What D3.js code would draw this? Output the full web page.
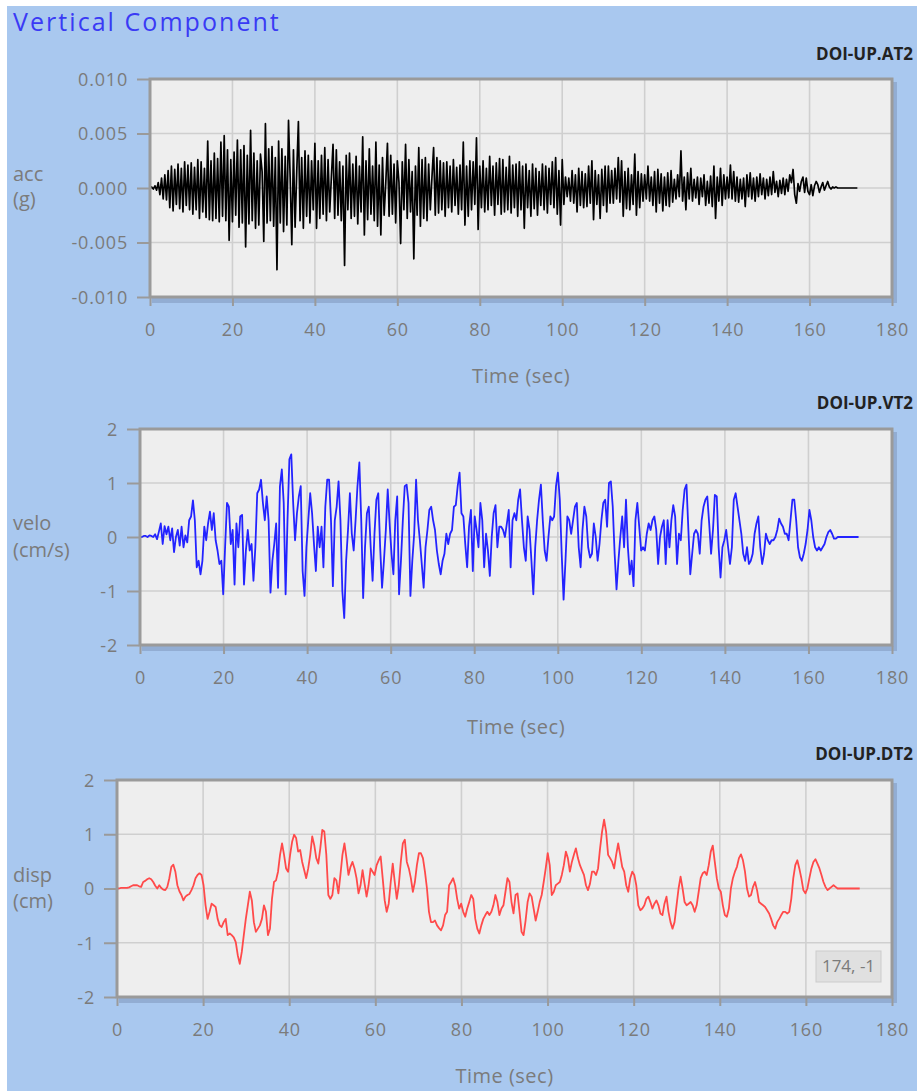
<!DOCTYPE html>
<html><head><meta charset="utf-8">
<script src="https://cdn.jsdelivr.net/npm/d3@7"></script>
<style>
html,body{margin:0;padding:0;background:#fff;}
svg{display:block;font-family:"Open Sans",sans-serif;}
</style></head><body>
<svg id="c" width="917" height="1091"></svg>
<script>
// ---------- data ----------
const chartTitle = "Vertical Component";
const fileNames = ["DOI-UP.AT2", "DOI-UP.VT2", "DOI-UP.DT2"];
const yLabels = [["acc", "(g)"], ["velo", "(cm/s)"], ["disp", "(cm)"]];
const xTitle = "Time (sec)";
const timeTicks = [0, 20, 40, 60, 80, 100, 120, 140, 160, 180];
const accTicks = [-0.010, -0.005, 0, 0.005, 0.010];
const accTickLabels = ["-0.010", "-0.005", "0.000", "0.005", "0.010"];
const veloTicks = [-2, -1, 0, 1, 2];
const veloTickLabels = ["-2", "-1", "0", "1", "2"];
const dispTicks = [-2, -1, 0, 1, 2];
const dispTickLabels = ["-2", "-1", "0", "1", "2"];
const tooltipText = "174, -1";

// acceleration (milli-g), sampled every 0.4 s
const accStep = 0.4;
const accMilliG = [
0,0.1,-0.1,0.2,-0.2,0.5,-0.6,0.9,-1.0,1.2,-1.1,1.6,-1.8,2.0,-2.1,1.7,-1.5,2.2,-1.9,1.8,-2.2,2.4,-1.6,2.1,-2.0,
2.3,-2.4,1.9,-2.0,2.6,-2.8,2.4,-2.2,1.8,-2.7,4.3,-2.9,2.5,-3.0,3.2,-2.8,2.7,-3.1,4.2,-2.6,4.8,-3.0,3.5,-4.8,2.6,
-3.1,3.3,-2.5,4.4,-3.6,3.5,-3.2,3.9,-5.4,3.0,-3.3,5.3,-3.0,3.2,-3.7,2.5,-3.4,3.1,1.5,-4.9,5.9,-3.2,3.6,-3.0,3.8,
-3.5,2.8,-7.5,4.3,-3.2,3.6,-4.0,2.9,-3.4,6.2,1.0,-5.2,3.5,-3.6,1.5,6.1,-3.0,2.8,-3.7,3.4,-2.6,3.0,-3.2,2.5,-2.0,
4.1,-3.7,2.5,-2.8,3.0,-2.4,3.7,-3.0,2.6,-2.2,1.0,4.0,-2.8,3.5,-2.5,2.4,-3.0,2.0,-7.1,3.0,-2.0,3.2,-2.8,2.2,-2.6,
2.9,-3.3,2.0,-2.2,4.7,-4.3,2.5,-2.9,3.6,-2.4,2.0,-3.0,4.2,-3.5,2.1,-4.3,2.8,-2.5,0.5,4.1,-2.6,3.0,-2.4,2.2,-3.2,
2.5,0.5,-5.1,2.4,-2.0,4.0,-2.8,2.6,-2.2,1.5,-6.5,2.0,-2.5,3.7,-3.5,2.6,-2.8,2.8,-3.0,2.2,-2.0,1.0,3.7,-2.5,2.8,
-2.3,2.5,-2.0,2.3,-2.6,2.4,-1.8,2.0,-2.2,2.6,-1.6,1.9,-2.4,2.1,-2.0,4.2,-3.4,2.0,-2.6,2.5,-2.0,2.4,-1.5,4.6,-3.8,
2.0,-1.8,2.5,-2.2,1.8,-2.0,2.9,-1.6,2.0,-2.5,2.3,-1.5,2.7,-2.4,2.6,-2.2,1.9,-2.0,2.9,-2.3,2.1,-1.8,2.2,-2.6,2.4,
-2.0,2.0,-3.7,2.2,-1.8,1.6,-2.6,2.2,-1.9,1.8,-2.5,1.5,-1.6,2.2,-2.0,2.0,-2.3,1.8,-1.5,2.4,-1.8,2.8,-2.4,1.6,-3.4,
2.6,-1.5,1.0,-0.8,0.9,-1.2,1.6,-1.4,1.2,-2.2,1.8,-1.6,1.5,-1.8,1.3,-1.7,2.0,-1.4,2.5,-2.9,1.6,-1.5,1.2,-2.8,1.7,
-1.6,2.0,-2.2,2.0,-1.4,1.6,-1.4,1.8,-1.0,2.8,-1.3,2.5,-2.6,1.5,-1.9,1.8,-2.0,1.2,-1.5,3.1,-2.5,1.5,-1.8,1.3,-1.2,
1.2,-1.0,2.0,-1.2,1.0,-1.6,1.5,-2.2,1.7,-1.4,1.3,-2.1,1.0,-1.6,1.4,-1.7,1.6,-1.3,0.8,-1.0,1.2,-0.8,3.4,-1.2,1.0,
-2.0,1.4,-1.0,1.8,-1.2,0.8,-0.9,1.0,-1.5,0.9,-0.8,1.2,-1.6,0.6,-1.4,1.1,-1.7,2.0,-2.8,1.0,-1.2,1.8,-1.6,1.2,-1.0,
1.0,-0.9,2.1,-1.0,1.5,-1.2,1.0,-1.3,0.8,-1.0,0.9,-1.7,1.2,-0.8,1.4,-1.0,0.9,-1.2,1.0,-0.8,1.3,-0.6,0.9,-1.0,0.8,
-0.7,1.0,-0.6,1.5,-0.4,0.6,-0.8,0.7,-0.5,0.9,-0.6,0.8,-0.3,1.2,0.5,1.7,-0.6,-1.4,0.4,-0.3,0.6,1.0,-0.4,0.9,-0.3,
-0.6,0.3,-0.7,0.2,0.6,0.3,-0.4,0.1,0.5,-0.2,0.2,0.6,0.1,-0.1,0.1,0,0.1,0,0,0,0,0,0,0,0,0,0,0,0,0
];

// velocity (cm/s), evenly sampled from 0 to veloEnd seconds
const veloEnd = 172;
const veloValues = [
0,0,0.02,0.02,0,0.03,0.02,0,0.05,-0.04,0.1,0.25,-0.13,0.2,0.05,0.19,-0.06,0.16,-0.28,0,
0.13,-0.16,0.19,-0.19,0.03,-0.1,0.31,0.38,0.68,
0.31,-0.56,-0.44,-0.69,-0.44,0.19,-0.06,0.25,0.47,0.13,0.44,-0.06,-0.25,-0.5,-0.44,-1.06,-0.19,0.63,0.56,-0.13,
0.13,-0.88,0.25,-0.19,0.38,0.41,-0.88,-0.25,0.13,-0.25,-0.13,-0.81,-0.19,0.81,0.88,1.06,0.63,0.31,0.75,0.31,
-1.03,-0.44,-0.13,0.25,-0.94,0.94,1.25,0.63,-1.06,0.31,1.44,1.53,
0.63,-0.06,0.44,0.75,0.94,-0.63,-1.09,-0.19,0.31,0.81,0.44,-0.13,-0.63,0.19,-0.19,0.19,-0.56,0.56,1.06,1.06,
0.31,-0.91,0.31,0.56,1.03,0.31,-1.0,-1.5,
-0.44,0.13,0.81,0.06,-0.25,0.31,0.94,1.38,0.31,-1.13,-0.19,0.44,0.56,-0.19,-0.81,0.06,0.69,0.81,-0.19,-0.94,
-0.44,0.13,0.88,0.25,-0.31,-0.69,0.31,0.75,-1.06,-0.44,0.31,0.94,0.97,0.63,-1.09,-0.44,0.06,1.06,0.31,-0.06,
-0.5,-0.94,-0.19,0.13,0.5,0.56,0.31,0.13,-0.25,-0.5,-0.69,-0.44,-0.31,0.06,-0.13,0.06,0.13,0.56,0.59,0.94,
1.19,0.44,0.38,-0.13,-0.56,0.19,0.5,-0.63,0.38,0.13,-0.19,0.63,0.31,-0.56,0.06,-0.25,-0.72,0,0.44,0.59,
-0.19,0.19,0.19,0.13,0,0.25,0.5,-0.56,0.31,0.44,0.31,0.69,0.88,0.31,-0.19,-0.44,0.38,0.13,-0.44,-1.06,
-0.19,0.31,0.69,0.97,0.31,-0.25,-0.44,0,0.38,0.31,0.38,0.94,1.19,0.69,-0.31,-1.16,-0.44,0.38,0.31,0.06,
0.31,0.56,0.63,-0.19,-0.56,0.13,0.56,0.38,-0.19,-0.38,-0.31,0.25,0,-0.44,-0.13,0.31,0.63,0.69,0.19,1.0,
1.03,0.56,-0.31,-0.97,-0.44,0,0.38,-0.19,0.69,-0.19,-0.69,-0.44,-0.91,0.31,0.63,0.19,-0.25,-0.19,-0.25,0.06,
0.25,0.13,0.31,0.38,0.13,-0.5,0,0.19,0.31,-0.5,0.31,-0.19,0.31,0.59,0.38,-0.5,0.06,-0.06,0.5,0.88,
0.97,0.13,-0.69,-0.31,0.06,0.13,0.06,-0.31,0.31,0.56,0.69,0.75,0.25,-0.31,0.13,0.78,0.75,-0.19,-0.75,-0.19,
-0.06,0.13,-0.19,-0.5,-0.19,0.69,0.81,0.56,0.31,0.06,-0.31,-0.44,-0.19,-0.5,-0.44,-0.31,0.06,0.25,0.38,-0.19,
-0.5,-0.31,0.06,-0.06,-0.13,-0.06,-0.06,0,0.13,0.34,0.25,0.19,0.06,0.06,-0.06,0.31,0.69,0.69,0.31,-0.19,
-0.38,-0.44,-0.31,-0.13,0.13,0.5,0.31,0,-0.19,-0.25,-0.19,-0.25,-0.19,-0.13,0,0.09,0.13,0.06,-0.03,-0.03,
0,0,0,0,0,0,0,0,0,0,0,0
];

// displacement (cm), evenly sampled from 0 to dispEnd seconds
const dispEnd = 172.5;
const dispValues = [
0,0,0.01,0.01,0.01,0.01,0.02,0.04,0.06,0.06,0.06,0.04,0.03,0.12,0.14,0.17,0.19,0.17,0.12,0.05,
0,0.06,0.01,-0.02,-0.03,0.03,0.19,0.4,0.44,0.31,0.06,-0.05,-0.12,-0.22,-0.15,-0.12,-0.1,-0.03,0.06,0.19,
0.25,0.28,0.25,0.06,-0.31,-0.56,-0.43,-0.28,-0.31,-0.34,-0.56,-0.68,-0.71,-0.62,-0.56,-0.86,-0.83,-0.86,-0.9,-0.99,
-1.23,-1.39,-1.17,-0.86,-0.56,-0.31,-0.06,-0.22,-0.62,-0.8,-0.74,-0.68,-0.56,-0.31,-0.43,-0.86,-0.74,-0.19,0.12,0.15,
0.31,0.62,0.83,0.62,0.37,0.31,0.62,0.86,0.99,0.93,0.68,0.71,0.49,0.34,0.19,0.37,0.62,0.96,0.8,0.56,
0.46,0.74,1.08,1.05,0.62,-0.12,-0.19,-0.12,0.19,0.15,-0.09,0.25,0.62,0.83,0.56,0.25,0.4,0.49,0.37,0.19,
-0.09,0.06,0.34,0.09,-0.15,0.06,0.37,0.31,0.25,0.43,0.52,0.59,0.19,-0.22,-0.43,-0.28,0.12,0.46,0.12,-0.19,
0.06,0.49,0.83,0.9,0.49,0.37,0.19,-0.06,0.12,0.43,0.65,0.65,0.56,0.31,0,-0.43,-0.62,-0.62,-0.59,-0.68,
-0.73,-0.77,-0.68,-0.49,-0.43,0.06,0.12,0.19,0.06,-0.19,-0.37,-0.28,-0.43,-0.52,-0.37,-0.25,-0.12,-0.19,-0.56,-0.74,
-0.83,-0.68,-0.56,-0.49,-0.43,-0.49,-0.43,-0.31,-0.12,-0.25,-0.49,-0.37,-0.31,-0.06,0.19,0.12,-0.25,-0.46,-0.12,-0.09,
-0.43,-0.8,-0.86,-0.59,-0.25,-0.09,-0.15,-0.37,-0.59,-0.43,-0.25,-0.12,0.12,0.37,0.65,0.43,-0.12,-0.06,0.06,0.09,
0.12,0.25,0.43,0.68,0.56,0.31,0.49,0.62,0.74,0.56,0.43,0.34,0.25,0.06,-0.03,0.09,0.31,0.31,0.25,0.37,
0.74,1.05,1.27,1.05,0.62,0.56,0.49,0.37,0.62,0.83,0.62,0.4,0.31,0.06,-0.06,0.19,0.31,0.25,0.06,-0.31,
-0.4,-0.37,-0.31,-0.19,-0.15,-0.25,-0.37,-0.28,-0.22,-0.31,-0.46,-0.49,-0.28,-0.15,-0.43,-0.62,-0.74,-0.62,-0.31,0,
0.22,0,-0.25,-0.31,-0.28,-0.25,-0.31,-0.43,-0.31,-0.06,0.19,0.28,0.31,0.25,0.43,0.68,0.79,0.49,0.19,0,
-0.06,-0.31,-0.49,-0.52,-0.37,0,0.19,0.31,0.4,0.56,0.63,0.52,0.31,0,-0.15,-0.12,0.03,0.12,-0.03,-0.25,
-0.28,-0.31,-0.34,-0.4,-0.46,-0.56,-0.68,-0.74,-0.62,-0.56,-0.49,-0.43,-0.43,-0.46,-0.43,-0.19,0.19,0.43,0.52,0.37,
0.19,-0.03,-0.09,0,0.19,0.37,0.49,0.54,0.46,0.37,0.25,0.12,0.03,-0.03,0,0.03,0.06,0.03,0,0,
0,0,0,0,0,0,0,0,0,0
];

// ---------- build series ----------
const accSeries = accMilliG.map((v, i) => ({t: i * accStep, v: v / 1000}));
const veloSeries = veloValues.map((v, i) => ({t: i * veloEnd / (veloValues.length - 1), v}));
const dispSeries = dispValues.map((v, i) => ({t: i * dispEnd / (dispValues.length - 1), v}));

const panels = [
  {series: accSeries, ticks: accTicks, labels: accTickLabels, domain: [-0.010, 0.010], color: "#000000", width: 1.7,
   box: {l: 150, r: 892, t: 79, b: 297}, nameY: 60, ylabY: [181, 206], tickY: 336, titleY: 383},
  {series: veloSeries, ticks: veloTicks, labels: veloTickLabels, domain: [-2, 2], color: "#2323ff", width: 1.8,
   box: {l: 140, r: 892, t: 429, b: 645}, nameY: 409, ylabY: [530, 557], tickY: 684, titleY: 734},
  {series: dispSeries, ticks: dispTicks, labels: dispTickLabels, domain: [-2, 2], color: "#ff4a4a", width: 1.8,
   box: {l: 117, r: 892, t: 780, b: 997}, nameY: 760, ylabY: [882, 908], tickY: 1036, titleY: 1083}
];

const svg = d3.select("#c");
// background
svg.append("rect").attr("x", 7).attr("y", 6).attr("width", 910).attr("height", 1085).attr("fill", "#a9c8ef");

svg.append("text").attr("x", 13).attr("y", 31).attr("font-size", 25).attr("letter-spacing", 2.05)
  .attr("fill", "#3a3af5").text(chartTitle);

panels.forEach((p, k) => {
  const {l, r, t, b} = p.box;
  const x = d3.scaleLinear().domain([0, 180]).range([l, r]);
  const y = d3.scaleLinear().domain(p.domain).range([b, t]);
  const g = svg.append("g");

  // file name
  g.append("text").attr("x", 913).attr("y", p.nameY).attr("text-anchor", "end")
    .attr("font-size", 17).attr("font-weight", 700).attr("fill", "#222").text(fileNames[k]);

  // shadow + plot bg
  g.append("rect").attr("x", l + 2).attr("y", t + 3).attr("width", r - l + 3).attr("height", b - t + 3)
    .attr("fill", "#7f97bb").attr("opacity", 0.55);
  g.append("rect").attr("x", l).attr("y", t).attr("width", r - l).attr("height", b - t).attr("fill", "#eeeeee");

  // grid
  g.append("g").selectAll("line").data(timeTicks.filter(d => d > 0 && d < 180)).join("line")
    .attr("x1", d => x(d)).attr("x2", d => x(d)).attr("y1", t).attr("y2", b)
    .attr("stroke", "#cfcfcf").attr("stroke-width", 1.6);
  g.append("g").selectAll("line").data(p.ticks.filter((d, i) => i > 0 && i < p.ticks.length - 1)).join("line")
    .attr("x1", l).attr("x2", r).attr("y1", d => y(d)).attr("y2", d => y(d))
    .attr("stroke", "#cfcfcf").attr("stroke-width", 1.6);

  // data line
  const clipId = "clip" + k;
  g.append("clipPath").attr("id", clipId).append("rect").attr("x", l).attr("y", t).attr("width", r - l).attr("height", b - t);
  g.append("path").datum(p.series).attr("clip-path", `url(#${clipId})`)
    .attr("fill", "none").attr("stroke", p.color).attr("stroke-width", p.width).attr("stroke-linejoin", "round")
    .attr("d", d3.line().x(d => x(d.t)).y(d => y(d.v)));

  // frame
  g.append("rect").attr("x", l).attr("y", t).attr("width", r - l).attr("height", b - t)
    .attr("fill", "none").attr("stroke", "#9a9a9a").attr("stroke-width", 3);

  // axes
  const yAxis = d3.axisLeft(y).tickValues(p.ticks).tickFormat((d, i) => p.labels[i]).tickSize(12).tickPadding(9);
  const ya = g.append("g").attr("transform", `translate(${l - 1},0)`).call(yAxis);
  const xAxis = d3.axisBottom(x).tickValues(timeTicks).tickFormat(d => String(d)).tickSize(8).tickPadding(0);
  const xa = g.append("g").attr("transform", `translate(0,${b + 1})`).call(xAxis);
  [ya, xa].forEach(a => {
    a.select(".domain").remove();
    a.selectAll(".tick line").attr("stroke", "#9a9a9a").attr("stroke-width", 2);
    a.selectAll(".tick text").attr("fill", "#7b7b7b").attr("font-size", 18).attr("letter-spacing", 0.8)
      .attr("font-family", "Open Sans, sans-serif");
  });
  ya.selectAll(".tick text").attr("dy", "0.36em");
  xa.selectAll(".tick text").attr("y", p.tickY - b - 1).attr("dy", 0);

  // x title
  g.append("text").attr("x", (l + r) / 2).attr("y", p.titleY).attr("text-anchor", "middle")
    .attr("font-size", 20).attr("letter-spacing", 0.5).attr("fill", "#7b7b7b").text(xTitle);
  // y label
  yLabels[k].forEach((s, j) => {
    g.append("text").attr("x", 13).attr("y", p.ylabY[j]).attr("font-size", 20)
      .attr("fill", "#7b7b7b").text(s);
  });

  if (k === 2) {
    g.append("rect").attr("x", 816).attr("y", 951).attr("width", 65).attr("height", 31)
      .attr("fill", "#e0e0e0").attr("stroke", "#cccccc").attr("stroke-width", 1);
    g.append("text").attr("x", 848.5).attr("y", 972).attr("text-anchor", "middle")
      .attr("font-size", 17).attr("fill", "#7b7b7b").text(tooltipText);
  }
});
</script>
</body></html>
